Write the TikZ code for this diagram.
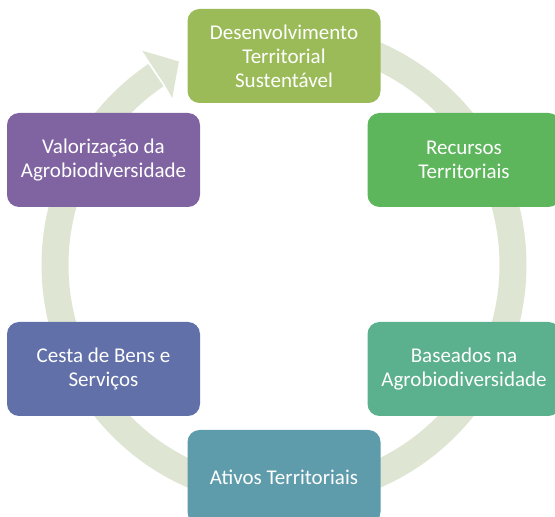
\documentclass[tikz,border=0pt]{standalone}
\usepackage{fontspec}
\setmainfont{Carlito}
\usetikzlibrary{calc}
\definecolor{ringc}{HTML}{DEE6D3}
\definecolor{cA}{HTML}{9BBB59}
\definecolor{cB}{HTML}{5DB55C}
\definecolor{cC}{HTML}{5BB08E}
\definecolor{cD}{HTML}{5F9CAB}
\definecolor{cE}{HTML}{6170A8}
\definecolor{cF}{HTML}{8064A2}
\tikzset{
  cyclebox/.style={rectangle, rounded corners=12pt, minimum width=193pt, minimum height=94pt,
    text=white, align=center, inner sep=2pt,
    font=\fontsize{21}{24}\selectfont},
}
\begin{document}
\begin{tikzpicture}[x=1pt,y=1pt]
\useasboundingbox (0,0) rectangle (555,517);
\clip (0,0) rectangle (555,517);
\coordinate (C) at (284,252);
% ring with arrowhead
\draw[ringc, line width=27pt] (C) ++(90:229) arc[start angle=90, end angle=-236, radius=229];
\fill[ringc] ($(C)+(123.5:257)$) -- ($(C)+(117.3:229)$) -- ($(C)+(123.8:201)$) -- ($(C)+(123.5:215.5)$) -- ($(C)+(123.5:242.5)$) -- cycle;
% boxes
\node[cyclebox, fill=cA] (dts) at (284,461) {Desenvolvimento\\Territorial\\Sustentável};
\node[cyclebox, fill=cB] (rec) at (464,357) {Recursos\\Territoriais};
\node[cyclebox, fill=cC] (bas) at (464,148) {Baseados na\\Agrobiodiversidade};
\node[cyclebox, fill=cD] (ati) at (284,40) {Ativos Territoriais};
\node[cyclebox, fill=cE] (ces) at (103.5,148) {Cesta de Bens e\\Serviços};
\node[cyclebox, fill=cF] (val) at (103.5,357) {Valorização da\\Agrobiodiversidade};
\end{tikzpicture}
\end{document}
